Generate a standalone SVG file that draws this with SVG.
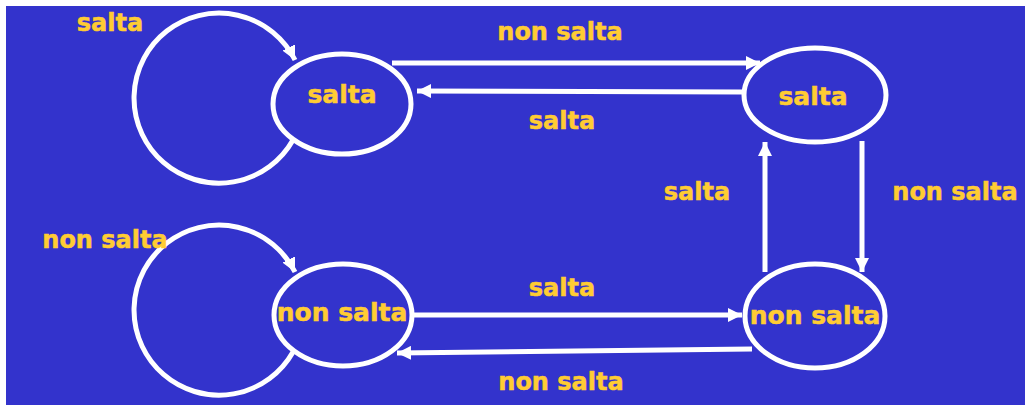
<svg xmlns="http://www.w3.org/2000/svg" width="1025" height="405" viewBox="0 0 1025 405">
  <defs>
    <marker id="arrow" markerUnits="userSpaceOnUse" markerWidth="16" markerHeight="14" refX="14" refY="7" orient="auto">
      <path d="M0,0 L14,7 L0,14 Z" fill="#ffffff"/>
    </marker>
  </defs>
  <style>
    .bg { fill: #3333cc; }
    .state { fill: none; stroke: #ffffff; stroke-width: 5; }
    .edge { fill: none; stroke: #ffffff; stroke-width: 5; marker-end: url(#arrow); }
    .lbl { font-family: "DejaVu Sans", Verdana, sans-serif; font-weight: bold; font-size: 24px; fill: #ffcc33; stroke: #ffcc33; stroke-width: 0.5; text-anchor: middle; }
    .name { font-size: 25px; }
  </style>

  <rect x="0" y="0" width="1025" height="405" fill="#ffffff"/>
  <rect class="bg" x="6" y="6" width="1019" height="399"/>

  <!-- transitions -->
  <g id="edges">
    <path class="edge" d="M293,140 A85,85 0 1 1 295,60"/>
    <path class="edge" d="M293,352 A85,85 0 1 1 295,272"/>
    <path class="edge" d="M392,63 L760,63"/>
    <path class="edge" d="M742,92 L417,91"/>
    <path class="edge" d="M765,272 L765,142"/>
    <path class="edge" d="M862,141 L862,272"/>
    <path class="edge" d="M413,315 L742,315"/>
    <path class="edge" d="M752,349 L397,353"/>
    <text class="lbl" x="110" y="31">salta</text>
    <text class="lbl" x="560" y="40">non salta</text>
    <text class="lbl" x="562" y="129">salta</text>
    <text class="lbl" x="697" y="200">salta</text>
    <text class="lbl" x="955" y="200">non salta</text>
    <text class="lbl" x="105" y="248">non salta</text>
    <text class="lbl" x="562" y="296">salta</text>
    <text class="lbl" x="561" y="390">non salta</text>
  </g>

  <!-- states -->
  <g id="s-salta-1">
    <ellipse class="state" cx="342" cy="104" rx="69" ry="50"/>
    <text class="lbl name" x="342" y="103">salta</text>
  </g>
  <g id="s-salta-2">
    <ellipse class="state" cx="815" cy="95" rx="71" ry="47"/>
    <text class="lbl name" x="813" y="105">salta</text>
  </g>
  <g id="s-nonsalta-1">
    <ellipse class="state" cx="343" cy="315" rx="69" ry="51"/>
    <text class="lbl name" x="342" y="321">non salta</text>
  </g>
  <g id="s-nonsalta-2">
    <ellipse class="state" cx="815" cy="316" rx="70" ry="52"/>
    <text class="lbl name" x="815" y="324">non salta</text>
  </g>
</svg>
